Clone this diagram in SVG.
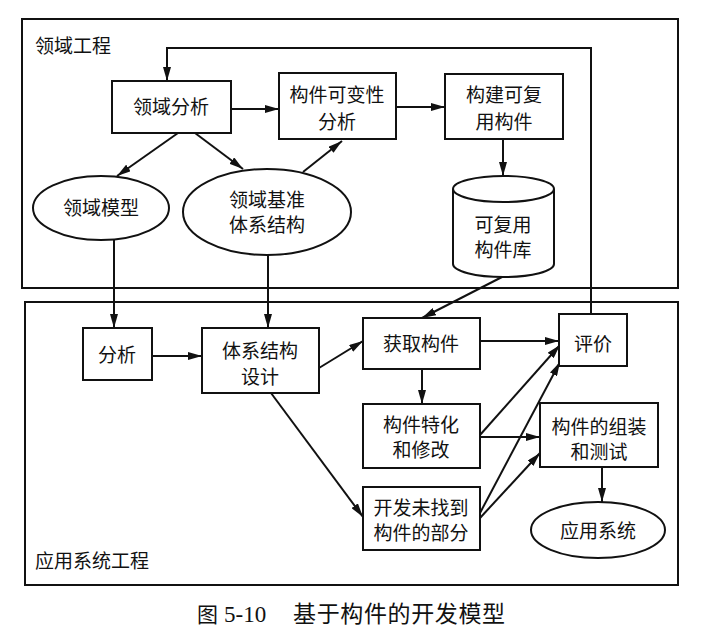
<svg xmlns="http://www.w3.org/2000/svg" width="704" height="638" viewBox="0 0 704 638">
<defs>
<marker id="ar" viewBox="0 0 14 8" refX="14" refY="4" markerWidth="14" markerHeight="8" markerUnits="userSpaceOnUse" orient="auto">
<path d="M0,0 L14,4 L0,8 Z" fill="#111"/>
</marker>
</defs>
<style>
.fr{fill:none;stroke:#111;stroke-width:2}
.bx{fill:#fff;stroke:#111;stroke-width:2}
.t{font-family:"Noto Sans CJK SC","Noto Sans",sans-serif;font-size:19px;fill:#111;text-anchor:middle}
.lb{font-family:"Noto Sans CJK SC","Noto Sans",sans-serif;font-size:19px;fill:#111}
.c line,.c path{stroke:#111;stroke-width:2;fill:none;marker-end:url(#ar)}
</style>
<rect width="704" height="638" fill="#fff"/>
<g id="frames">
<rect class="fr" x="22" y="19" width="656" height="269"/>
<rect class="fr" x="25" y="302" width="653" height="283"/>
<text class="lb" x="35" y="53">领域工程</text>
<text class="lb" x="35" y="568">应用系统工程</text>
</g>
<g class="c" id="connectors">
<path d="M591,314 V48 H167 V81"/>
<line x1="231" y1="109" x2="279" y2="109"/>
<line x1="396" y1="107" x2="445" y2="107"/>
<line x1="503" y1="139" x2="503" y2="176"/>
<line x1="178" y1="133" x2="117" y2="176"/>
<line x1="195" y1="133" x2="243" y2="169"/>
<line x1="303" y1="172" x2="342" y2="141"/>
<line x1="114" y1="240" x2="114" y2="328"/>
<line x1="268" y1="255" x2="268" y2="328"/>
<line x1="502" y1="277" x2="422" y2="318"/>
<line x1="152" y1="356" x2="202" y2="356"/>
<line x1="319" y1="368" x2="363" y2="341"/>
<line x1="271" y1="393" x2="363" y2="517"/>
<line x1="480" y1="341" x2="559" y2="341"/>
<line x1="422" y1="369" x2="422" y2="404"/>
<line x1="480" y1="435" x2="560" y2="345"/>
<line x1="480" y1="437" x2="540" y2="437"/>
<line x1="480" y1="513" x2="560" y2="362"/>
<line x1="480" y1="518" x2="540" y2="453"/>
<line x1="602" y1="467" x2="602" y2="502"/>
</g>
<g id="n-lyfx"><rect class="bx" x="112" y="81" width="119" height="52"/><text class="t" x="171" y="114">领域分析</text></g>
<g id="n-kbx"><rect class="bx" x="279" y="73" width="117" height="66"/><text class="t" x="337" y="102">构件可变性</text><text class="t" x="337" y="129">分析</text></g>
<g id="n-gj"><rect class="bx" x="445" y="74" width="118" height="65"/><text class="t" x="504" y="102">构建可复</text><text class="t" x="504" y="129">用构件</text></g>
<g id="n-ku">
<path class="bx" d="M453,189 V264 A50.5,13 0 0 0 554,264 V189"/>
<ellipse class="bx" cx="503.5" cy="189" rx="50.5" ry="13"/>
<text class="t" x="503" y="232">可复用</text><text class="t" x="503" y="257">构件库</text>
</g>
<g id="n-lymx"><ellipse class="bx" cx="101" cy="208" rx="68" ry="32"/><text class="t" x="101" y="215">领域模型</text></g>
<g id="n-jz"><ellipse class="bx" cx="267" cy="212" rx="84" ry="43"/><text class="t" x="267" y="207">领域基准</text><text class="t" x="267" y="232">体系结构</text></g>
<g id="n-fx"><rect class="bx" x="83" y="328" width="69" height="52"/><text class="t" x="117" y="362">分析</text></g>
<g id="n-sj"><rect class="bx" x="202" y="328" width="117" height="65"/><text class="t" x="260" y="358">体系结构</text><text class="t" x="260" y="384">设计</text></g>
<g id="n-hq"><rect class="bx" x="363" y="318" width="117" height="51"/><text class="t" x="421" y="351">获取构件</text></g>
<g id="n-pj"><rect class="bx" x="559" y="314" width="68" height="52"/><text class="t" x="593" y="351">评价</text></g>
<g id="n-th"><rect class="bx" x="363" y="404" width="117" height="64"/><text class="t" x="421" y="432">构件特化</text><text class="t" x="421" y="457">和修改</text></g>
<g id="n-zz"><rect class="bx" x="540" y="403" width="118" height="64"/><text class="t" x="599" y="434">构件的组装</text><text class="t" x="599" y="459">和测试</text></g>
<g id="n-kf"><rect class="bx" x="363" y="487" width="117" height="63"/><text class="t" x="421" y="515">开发未找到</text><text class="t" x="421" y="540">构件的部分</text></g>
<g id="n-yy"><ellipse class="bx" cx="598" cy="530" rx="67" ry="28"/><text class="t" x="598" y="538">应用系统</text></g>
<g id="caption" fill="#111">
<text x="197" y="622" font-family="'Noto Sans CJK SC',sans-serif" font-size="21">图</text>
<text x="224" y="622" font-family="'Liberation Serif',serif" font-size="23">5-10</text>
<text x="293" y="622" font-family="'Noto Sans CJK SC',sans-serif" font-size="23" textLength="212" lengthAdjust="spacing">基于构件的开发模型</text>
</g>
</svg>
